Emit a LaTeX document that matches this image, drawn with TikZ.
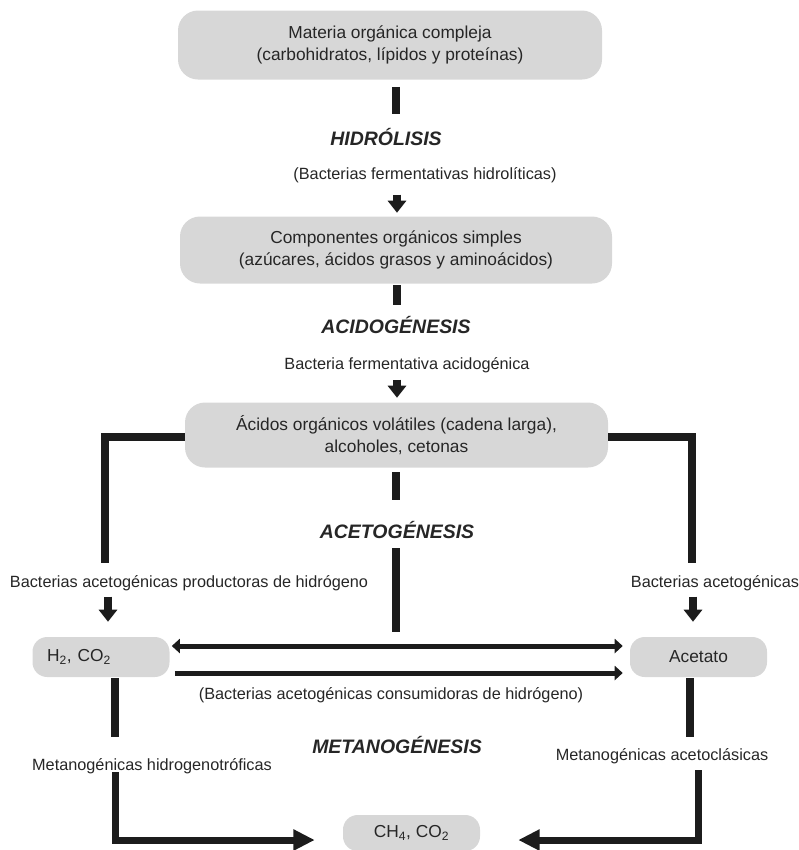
\documentclass[tikz,border=0pt]{standalone}
\usepackage{fontspec}
\setmainfont{Liberation Sans}
\usepackage{tikz}
\usetikzlibrary{arrows.meta,calc,positioning}
\definecolor{cajagris}{HTML}{D7D7D7}
\definecolor{barragris}{HTML}{1C1C1C}

\begin{document}
\begin{tikzpicture}[x=0.75pt,y=-0.75pt,
  caja/.style={fill=cajagris,rounded corners=15pt,align=center,text=black!85,
    font=\fontsize{13}{16.5}\selectfont},
  cajita/.style={caja,rounded corners=11pt,minimum width=102.75pt,minimum height=30pt,inner sep=0pt},
  fase/.style={font=\fontsize{14.6}{17}\selectfont\bfseries\itshape,text=black!85},
  etiq/.style={font=\fontsize{12.2}{15}\selectfont,text=black!85,inner sep=1pt},
  barra/.style={draw=barragris,line width=6.25pt},
  flechac/.style={barra,-{Triangle[length=9pt,width=13.5pt]}},
  flechah/.style={draw=barragris,line width=3.75pt},
  flechag/.style={draw=barragris,line width=5.25pt,-{Triangle[length=16pt,width=15pt]}}]
\useasboundingbox (0,0) rectangle (799,850);

% cajas
\node[caja,minimum width=318pt,minimum height=51.75pt] (mat) at (390,45)
  {Materia orgánica compleja\\(carbohidratos, lípidos y proteínas)};
\node[caja,minimum width=324pt,minimum height=50.25pt] (comp) at (396,250)
  {Componentes orgánicos simples\\(azúcares, ácidos grasos y aminoácidos)};
\node[caja,minimum width=317.25pt,minimum height=48.75pt] (acidos) at (396.5,435)
  {Ácidos orgánicos volátiles (cadena larga),\\alcoholes, cetonas};
\node[cajita,text width=81pt,align=left] (h2) at (101,657)
  {H\textsubscript{2}, CO\textsubscript{2}};
\node[cajita] (acet) at (698.5,657) {Acetato};
\node[cajita,minimum height=27pt] (ch4) at (411.5,833)
  {CH\textsubscript{4}, CO\textsubscript{2}};

% fases
\node[fase] (hidr) at (386,137) {HIDRÓLISIS};
\node[fase] (acid) at (396,325) {ACIDOGÉNESIS};
\node[fase] (aceto) at (397,530) {ACETOGÉNESIS};
\node[fase] (meta) at (397,745) {METANOGÉNESIS};

% bacterias
\node[etiq] (bhid) at (425,175) {(Bacterias fermentativas hidrolíticas)};
\node[etiq] (bacid) at (407,365) {Bacteria fermentativa acidogénica};
\node[etiq] (bprod) at (189,583) {Bacterias acetogénicas productoras de hidrógeno};
\node[etiq] (bacet) at (715,583) {Bacterias acetogénicas};
\node[etiq] (bcons) at (391,695) {(Bacterias acetogénicas consumidoras de hidrógeno)};
\node[etiq] (mhid) at (152,766) {Metanogénicas hidrogenotróficas};
\node[etiq] (macet) at (662,756) {Metanogénicas acetoclásicas};

\coordinate (izq) at (105,563);
\coordinate (der) at (692,563);
\coordinate (cruce) at (396,632);

% conectores
\draw[barra] (mat.south) ++(6,7) -- ++(0,27);
\draw[flechac] (comp.north) ++(1,-21.5) -- ++(0,18);
\draw[barra] (comp.south) ++(1,1.5) -- ++(0,20);
\draw[flechac] (acidos.north) ++(0.5,-22.5) -- ++(0,18);
\draw[barra] (acidos.west) ++(0,2) -| (izq);
\draw[barra] (acidos.east) ++(0,2) -| (der);
\draw[barra] (acidos.south) ++(-0.5,4.5) -- ++(0,28);
\draw[barra] (aceto) ++(-1,18) -- (cruce);
\draw[flechac] (h2.north) ++(7,-40) -- ++(0,25);
\draw[flechac] (acet.north) ++(-5.5,-40) -- ++(0,25);
\draw[flechah,{Triangle[length=6pt,width=10.5pt]}-{Triangle[length=6pt,width=10.5pt]}]
  ($(h2.east)+(2,-11)$) -- ($(acet.west)+(-7,-11)$);
\draw[flechah,-{Triangle[length=6pt,width=10.5pt]}]
  ($(h2.east)+(5,16)$) -- ($(acet.west)+(-7,16)$);
\draw[barra] (h2.south) ++(14,1) -- ++(0,59);
\draw[flechag] (h2.south) ++(14,95) |- ($(ch4.west)+(-28,7)$);
\draw[barra] (acet.south) ++(-8.5,1) -- ++(0,59);
\draw[flechag] (acet.south) ++(-0.5,93) |- ($(ch4.east)+(38,7)$);
\end{tikzpicture}
\end{document}
